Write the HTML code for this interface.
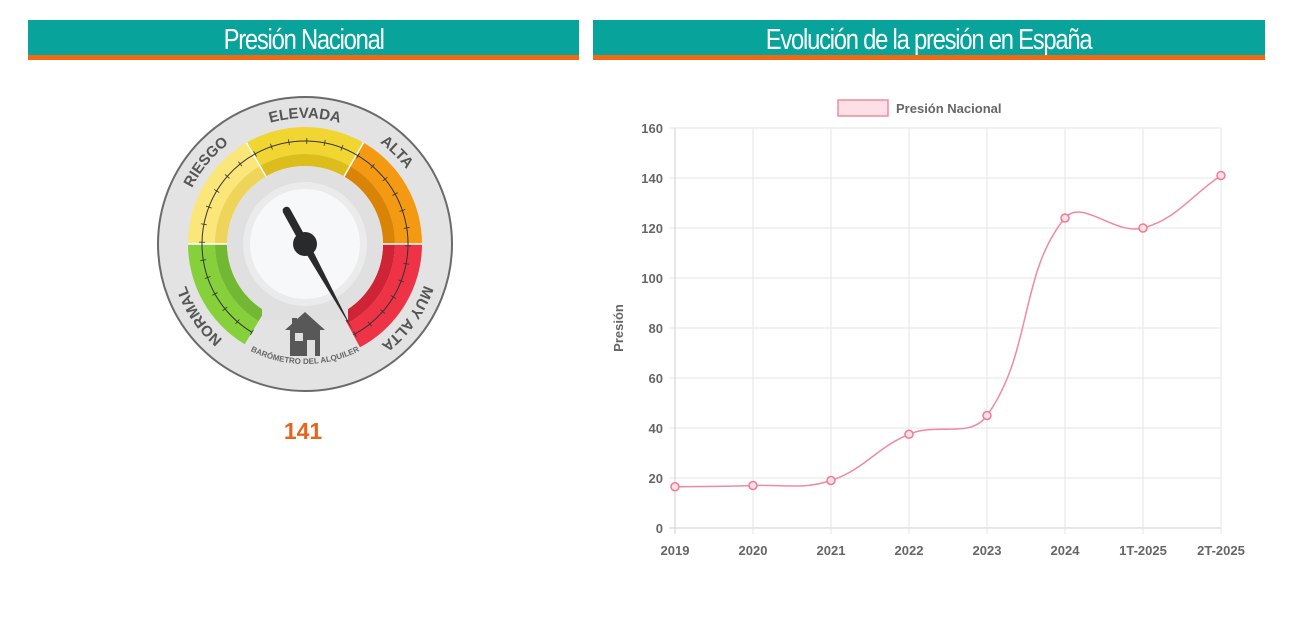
<!DOCTYPE html>
<html><head><meta charset="utf-8"><style>
body{margin:0;width:1300px;height:629px;background:#fff;font-family:"Liberation Sans",sans-serif;position:relative;overflow:hidden}
.hdr{position:absolute;top:20px;height:35px;background:#08a39a;border-bottom:5px solid #ef6a13;color:#fff;text-align:center;font-family:"Liberation Sans Narrow","Liberation Sans",sans-serif;font-size:29px;line-height:40px;letter-spacing:-1.5px;overflow:hidden}
.hdr span{display:inline-block;transform:scaleX(0.82);white-space:nowrap}
</style></head><body>
<div class="hdr" style="left:28px;width:551px"><span>Presión Nacional</span></div>
<div class="hdr" style="left:593px;width:672px"><span>Evolución de la presión en España</span></div>

<svg width="1300" height="629" style="position:absolute;left:0;top:0">
<g id="gauge"></g>
<text x="303" y="439" text-anchor="middle" font-size="23" font-weight="bold" fill="#e8641e">141</text>
<g id="chart"></g>
</svg>

<script>
const categories=["2019","2020","2021","2022","2023","2024","1T-2025","2T-2025"];
const values=[16.5,17,19,37.5,45,124,120,141];
const yTicks=[0,20,40,60,80,100,120,140,160];
const gaugeValue=141;

const NS="http://www.w3.org/2000/svg";
function mk(t,a,p){const e=document.createElementNS(NS,t);for(const k in a)e.setAttribute(k,a[k]);p.appendChild(e);return e;}

// ---- Gauge ----
const G=document.getElementById('gauge');
const cx=305,cy=244;
function pt(r,a){const d=a*Math.PI/180;return [cx+r*Math.cos(d),cy-r*Math.sin(d)];}
function band(r1,r2,a1,a2){
 const p1=pt(r2,a1),p2=pt(r2,a2),p3=pt(r1,a2),p4=pt(r1,a1);const lg=(a1-a2)>180?1:0;
 return `M${p1} A${r2} ${r2} 0 ${lg} 1 ${p2} L${p3} A${r1} ${r1} 0 ${lg} 0 ${p4}Z`;}
mk('circle',{cx,cy,r:147,fill:'#e3e3e3',stroke:'#6a6a6a','stroke-width':2},G);
const segs=[[239,180,'#86d03c','#72b832'],[180,120,'#fbe67a','#efd45a'],[120,60,'#f1d631','#dcbd1c'],[60,0,'#f39a12','#d98307'],[0,-62,'#ee3346','#cf2435']];
segs.forEach((s,i)=>{
 const e=mk('path',{d:band(90,117,s[0],s[1]),fill:s[2]},G);
 
 mk('path',{d:band(78,90,s[0],s[1]),fill:s[3]},G);
});
[180,120,60,0].forEach(a=>{const p=pt(78,a),q=pt(117,a);mk('line',{x1:p[0],y1:p[1],x2:q[0],y2:q[1],stroke:'#fff','stroke-width':1.5},G);});
mk('circle',{cx,cy,r:78,fill:'#e0e0e0'},G);
mk('polygon',{points:'262,320 262,290 305,262 348,290 348,320',fill:'#e0e0e0'},G);
mk('circle',{cx,cy,r:62,fill:'#ebebeb'},G);
mk('circle',{cx,cy,r:55,fill:'#f6f8f9'},G);
{const p=pt(103,239),q=pt(103,-62);mk('path',{d:`M${p} A103 103 0 1 1 ${q}`,fill:'none',stroke:'#333','stroke-width':1},G);
 for(let a=239;a>=-62;a-=10){const u=pt(100,a),v=pt(106,a);mk('line',{x1:u[0],y1:u[1],x2:v[0],y2:v[1],stroke:'#333','stroke-width':0.8},G);}}
mk('path',{id:'lblpath',d:`M${cx} ${cy+126} A126 126 0 1 1 ${cx} ${cy-126} A126 126 0 1 1 ${cx} ${cy+126}`,fill:'none'},G);
[['NORMAL',15.5],['RIESGO',36],['ELEVADA',50],['ALTA',62.5],['MUY ALTA',85]].forEach(l=>{
 const t=mk('text',{'font-size':15,'font-weight':'bold',fill:'#555','text-anchor':'middle'},G);
 
 
 const tp=mk('textPath',{href:'#lblpath',startOffset:l[1]+'%'},t);tp.textContent=l[0];});
mk('path',{id:'botpath',d:`M${cx-120} ${cy} A120 120 0 0 0 ${cx+120} ${cy}`,fill:'none'},G);
{const t=mk('text',{'font-size':8,'font-weight':'bold',fill:'#666','text-anchor':'middle'},G);
 const tp=mk('textPath',{href:'#botpath',startOffset:'50%'},t);tp.textContent='BARÓMETRO DEL ALQUILER';}
mk('path',{d:'M305 312 L325 330 L320 330 L320 356 L290 356 L290 330 L285 330 Z M292 318 L297 318 L297 322 L292 327Z',fill:'#585858'},G);
mk('rect',{x:295,y:333,width:8,height:8,fill:'#e0e0e0'},G);
mk('rect',{x:307,y:340,width:8,height:16,fill:'#e0e0e0'},G);
{const ang=120-gaugeValue*1.284;const tip=pt(99,ang);const tail=pt(38,ang+180);
 mk('line',{x1:cx,y1:cy,x2:tail[0],y2:tail[1],stroke:'#2a2a2a','stroke-width':8,'stroke-linecap':'round'},G);
 mk('polygon',{points:`${pt(4,ang+90)} ${tip} ${pt(4,ang-90)}`,fill:'#2a2a2a'},G);
 const h=mk('circle',{cx,cy,r:12,fill:'#2a2a2a'},G);}

// ---- Chart ----
const C=document.getElementById('chart');
const X0=675,X1=1221,Y0=528,Y1=128,YMAX=160;
const xs=i=>X0+(X1-X0)*i/(categories.length-1);
const ys=v=>Y0-(Y0-Y1)*v/YMAX;
yTicks.forEach(v=>{
 mk('line',{x1:X0-6,x2:X1,y1:ys(v),y2:ys(v),stroke:v===0?'#cfcfcf':'#e6e6e6','stroke-width':1},C);
 const t=mk('text',{x:X0-12,y:ys(v)+5,'text-anchor':'end','font-size':13,'font-weight':'bold',fill:'#666'},C);
 t.textContent=v;});
categories.forEach((c,i)=>{
 mk('line',{x1:xs(i),x2:xs(i),y1:Y1,y2:Y0+6,stroke:i===0?'#cfcfcf':'#e6e6e6','stroke-width':1},C);
 const t=mk('text',{x:xs(i),y:555,'text-anchor':'middle','font-size':13,'font-weight':'bold',fill:'#666'},C);
 t.textContent=c;});
{const t=mk('text',{x:623,y:328,'text-anchor':'middle','font-size':13,'font-weight':'bold',fill:'#666',transform:'rotate(-90 623 328)'},C);
 t.textContent='Presión';}
{const r=mk('rect',{x:838,y:100,width:50,height:16,fill:'#fde0e5',stroke:'#f08aa0','stroke-width':1.5},C);
 
 const t=mk('text',{x:896,y:113,'font-size':13,'font-weight':'bold',fill:'#666'},C);
 t.textContent='Presión Nacional';}
const P=values.map((v,i)=>[xs(i),ys(v)]);
let d=`M${P[0][0]} ${P[0][1]}`;const T=0.4;
function ctrl(i){const p=P[Math.max(i-1,0)],c=P[i],n=P[Math.min(i+1,P.length-1)];
 const d01=Math.hypot(c[0]-p[0],c[1]-p[1]),d12=Math.hypot(n[0]-c[0],n[1]-c[1]);
 let fa=d01/(d01+d12)||0,fb=d12/(d01+d12)||0;fa*=T;fb*=T;
 return {prev:[c[0]-fa*(n[0]-p[0]),c[1]-fa*(n[1]-p[1])],next:[c[0]+fb*(n[0]-p[0]),c[1]+fb*(n[1]-p[1])]};}
const cps=P.map((_,i)=>ctrl(i));
for(let i=1;i<P.length;i++){d+=` C${cps[i-1].next} ${cps[i].prev} ${P[i]}`;}
const ln=mk('path',{d,fill:'none',stroke:'#f08aa0','stroke-width':1.5},C);

P.forEach(p=>{const c=mk('circle',{cx:p[0],cy:p[1],r:4,fill:'#fde0e5',stroke:'#f07a94','stroke-width':1.5},C);
 });
</script>
</body></html>
